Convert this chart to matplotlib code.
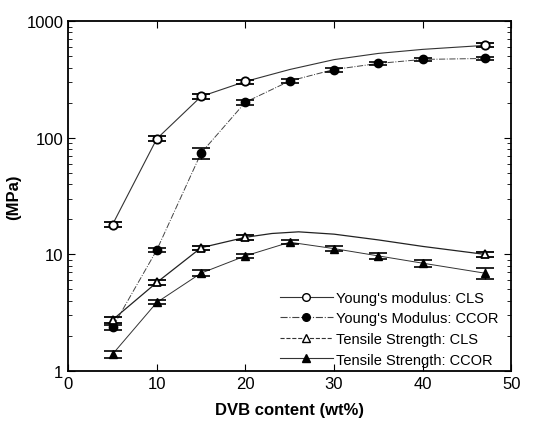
import matplotlib
matplotlib.use("Agg")
import matplotlib.pyplot as plt
import numpy as np

plt.rcParams['font.family'] = ['Liberation Sans', 'DejaVu Sans']

# measured points (DVB wt%, MPa)
x_cls = [5, 10, 15, 20, 47]
ym_cls = [18, 98, 226, 304, 620]
ym_cls_err = [1.0, 5, 10, 12, 25]
ts_cls = [2.74, 5.74, 11.4, 14.0, 10.0]
ts_cls_err = [0.15, 0.3, 0.5, 0.6, 0.5]

x_ccor = [5, 10, 15, 20, 25, 30, 35, 40, 47]
ym_ccor = [2.36, 10.9, 74, 202, 307, 385, 434, 470, 479]
ym_ccor_err = [0.1, 0.4, 8, 10, 12, 15, 15, 18, 18]
ts_ccor = [1.39, 3.87, 6.9, 9.7, 12.7, 11.2, 9.7, 8.4, 6.9]
ts_ccor_err = [0.1, 0.15, 0.4, 0.4, 0.5, 0.5, 0.5, 0.6, 0.8]

# smooth fit curves (no markers)
x_fit_cls = [5, 10, 15, 20, 25, 30, 35, 40, 47]
ym_fit_cls = [18, 98, 226, 304, 385, 468, 529, 573, 620]
x_fit_ts = [5, 10, 15, 20, 23, 26, 30, 35, 40, 47]
ts_fit_cls = [2.74, 5.74, 11.4, 14.0, 15.1, 15.6, 14.9, 13.3, 11.7, 10.0]

fig = plt.figure(figsize=(5.37, 4.35), dpi=100)
ax = fig.add_axes([0.127, 0.145, 0.825, 0.804])

ax.plot(x_fit_cls, ym_fit_cls, '-', color='#333333', lw=0.8)
ax.plot(x_ccor, ym_ccor, '-.', color='#444444', lw=0.7)
ax.plot(x_fit_ts, ts_fit_cls, '-', color='#222222', lw=0.9)
ax.plot(x_ccor, ts_ccor, '-', color='#333333', lw=0.7)

kw = dict(color='black', ecolor='black', elinewidth=1, capsize=6.5, capthick=1.2,
          linestyle='none', markersize=6)
ax.errorbar(x_cls, ym_cls, yerr=ym_cls_err, marker='o', mfc='white', mew=1.3, **kw)
ax.errorbar(x_ccor, ym_ccor, yerr=ym_ccor_err, marker='o', mfc='black', **kw)
ax.errorbar(x_cls, ts_cls, yerr=ts_cls_err, marker='^', mfc='white', mew=1.3, **kw)
ax.errorbar(x_ccor, ts_ccor, yerr=ts_ccor_err, marker='^', mfc='black', **kw)

# legend handles
h1, = ax.plot([], [], '-', color='#333333', lw=0.8, marker='o', mfc='white', mec='black', ms=5.5)
h2, = ax.plot([], [], '-.', color='#444444', lw=0.8, marker='o', mfc='black', mec='black', ms=5.5)
h3, = ax.plot([], [], '--', color='#333333', lw=0.8, marker='^', mfc='white', mec='black', ms=5.5)
h4, = ax.plot([], [], '-', color='#333333', lw=0.8, marker='^', mfc='black', mec='black', ms=5.5)
ax.legend([h1, h2, h3, h4],
          ["Young's modulus: CLS", "Young's Modulus: CCOR",
           "Tensile Strength: CLS", "Tensile Strength: CCOR"],
          loc='lower right', frameon=False, fontsize=10.5, handlelength=3.6,
          handletextpad=0.2, labelspacing=0.45, bbox_to_anchor=(1.0, -0.025))

ax.set_yscale('log')
ax.set_xlim(0, 50)
ax.set_ylim(1, 1000)
ax.set_xticks([0, 10, 20, 30, 40, 50])
ax.set_yticks([1, 10, 100, 1000])
ax.set_yticklabels(['1', '10', '100', '1000'])
ax.tick_params(which='both', direction='in', top=True, right=True, labelsize=12)
ax.tick_params(which='major', length=5)
ax.tick_params(which='minor', length=3)
for s in ax.spines.values():
    s.set_linewidth(1.3)

ax.set_xlabel('DVB content (wt%)', fontsize=12, fontweight='bold', labelpad=8)
ax.set_ylabel('(MPa)', fontsize=12, fontweight='bold', labelpad=4)

fig.savefig('out.png', dpi=100)
